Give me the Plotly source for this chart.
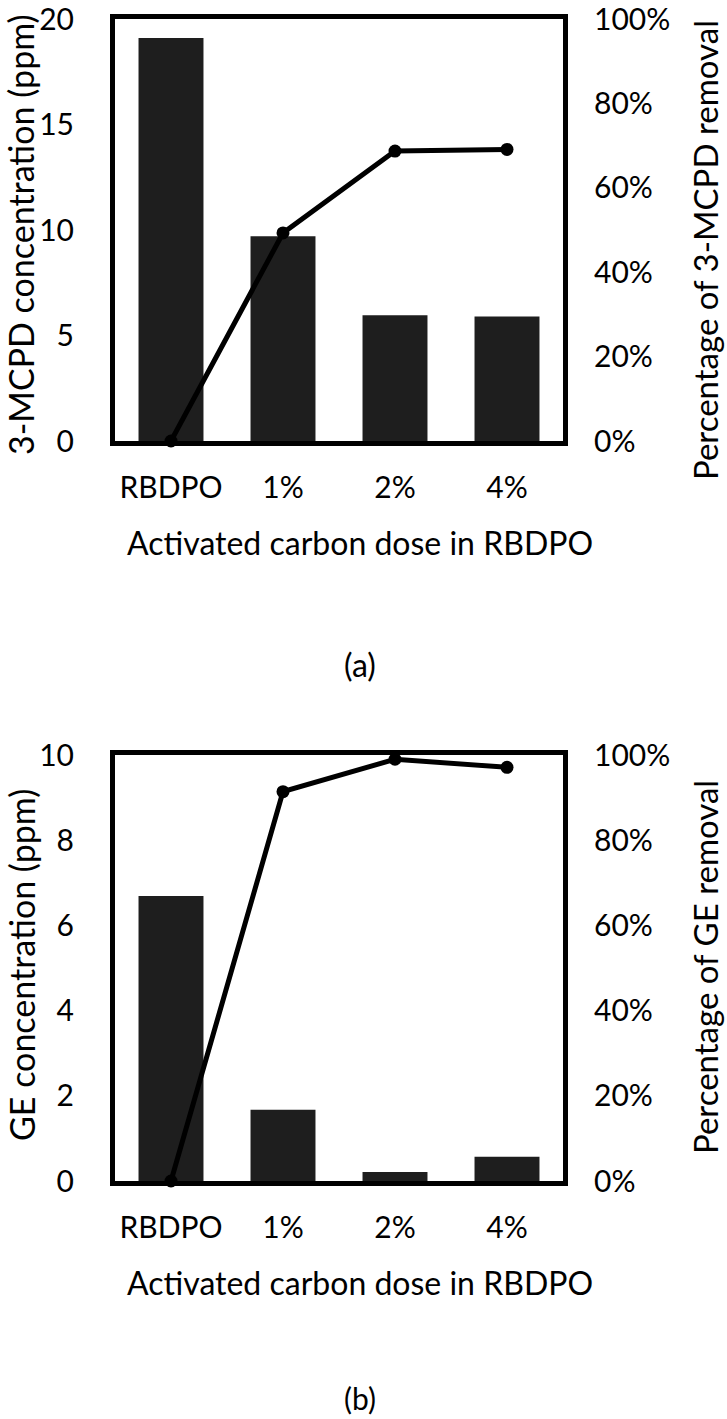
import plotly.graph_objects as go

W, H = 727, 1419

categories = ["RBDPO", "1%", "2%", "4%"]

mcpd_conc = [19.1, 9.7, 5.96, 5.9]
mcpd_removal = [0.0, 0.493, 0.687, 0.691]

ge_conc = [6.69, 1.67, 0.21, 0.57]
ge_removal = [0.0, 0.914, 0.99, 0.971]

FONT = "Lato"
FS_TICK = 30
FS_XT = 32
FS_YT = 33
BAR_COLOR = "#1e1e1e"

def py(px):
    return 1 - px / H

fig = go.Figure()

line_style = dict(color="black", width=5)
marker_style = dict(color="black", size=13)

# Panel (a)
fig.add_trace(go.Bar(x=categories, y=mcpd_conc, marker=dict(color=BAR_COLOR, line=dict(width=0)),
                     xaxis="x", yaxis="y", showlegend=False))
fig.add_trace(go.Scatter(x=categories, y=mcpd_removal, mode="lines+markers",
                         line=line_style, marker=marker_style,
                         xaxis="x", yaxis="y2", showlegend=False, cliponaxis=False))
# Panel (b)
fig.add_trace(go.Bar(x=categories, y=ge_conc, marker=dict(color=BAR_COLOR, line=dict(width=0)),
                     xaxis="x2", yaxis="y3", showlegend=False))
fig.add_trace(go.Scatter(x=categories, y=ge_removal, mode="lines+markers",
                         line=line_style, marker=marker_style,
                         xaxis="x2", yaxis="y4", showlegend=False, cliponaxis=False))

xdom = [115 / W, 563 / W]
a_dom = [py(441), py(19)]
b_dom = [py(1181), py(755)]

tickfont = dict(family=FONT, size=FS_TICK, color="black")
axline = dict(showline=True, linecolor="black", linewidth=5, showgrid=False, zeroline=False,
              automargin=False)
common_y = dict(ticks="", tickfont=tickfont, ticklabelstandoff=30, ticklabeloverflow="allow")

fig.update_layout(
    template="none",
    width=W, height=H,
    margin=dict(l=0, r=0, t=0, b=0, autoexpand=False),
    paper_bgcolor="white", plot_bgcolor="white",
    bargap=0.42,
    font=dict(family=FONT, size=FS_TICK, color="black"),
    xaxis=dict(type="category", domain=xdom, anchor="y", mirror=True, ticks="", tickfont=tickfont,
               ticklabelstandoff=16, **axline),
    yaxis=dict(domain=a_dom, anchor="x", range=[0, 20], dtick=5, mirror=True, **common_y, **axline),
    yaxis2=dict(overlaying="y", side="right", anchor="x", range=[0, 1], dtick=0.2,
                tickformat=".0%", showgrid=False, zeroline=False, showline=False,
                automargin=False, **common_y),
    xaxis2=dict(type="category", domain=xdom, anchor="y3", mirror=True, ticks="", tickfont=tickfont,
                ticklabelstandoff=16, **axline),
    yaxis3=dict(domain=b_dom, anchor="x2", range=[0, 10], dtick=2, mirror=True, **common_y, **axline),
    yaxis4=dict(overlaying="y3", side="right", anchor="x2", range=[0, 1], dtick=0.2,
                tickformat=".0%", showgrid=False, zeroline=False, showline=False,
                automargin=False, **common_y),
)

def ann(text, x, y, size, angle=0):
    fig.add_annotation(text=text, x=x / W, y=py(y), xref="paper", yref="paper",
                       showarrow=False, textangle=angle, borderpad=0,
                       font=dict(family=FONT, size=size, color="black"),
                       xanchor="center", yanchor="middle")

ann("3-MCPD concentration (ppm)", 21, 235, 34, -90)
ann("Percentage of 3-MCPD removal", 705, 250, 33, -90)
ann("Activated carbon dose in RBDPO", 360, 542, FS_XT)
ann("(a)", 360, 664, FS_XT)

ann("GE concentration (ppm)", 21, 965, 34, -90)
ann("Percentage of GE removal", 705, 967, 33, -90)
ann("Activated carbon dose in RBDPO", 360, 1282, FS_XT)
ann("(b)", 360, 1398, 30)

fig.write_html(
    "out.html",
    config={"displayModeBar": False},
    post_script="document.body.style.margin='0';document.body.style.padding='0';"
                "document.body.style.overflow='hidden';"
                "document.documentElement.style.overflow='hidden';",
)
